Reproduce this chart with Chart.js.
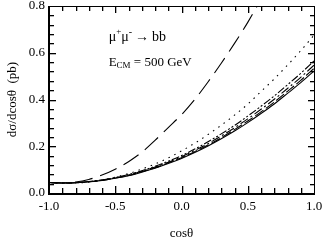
<!DOCTYPE html>
<html>
<head>
<meta charset="utf-8">
<script src="https://cdn.jsdelivr.net/npm/chart.js@4.4.1/dist/chart.umd.min.js"></script>
<style>
  html, body { margin: 0; padding: 0; background: #fff; }
  #wrap { width: 327px; height: 243px; }
</style>
</head>
<body>
<div id="wrap"><canvas id="myChart" width="327" height="243"></canvas></div>
<script>
  // cos(theta) sample points
  const cosTheta = [-1.0, -0.9, -0.8, -0.7, -0.6, -0.5, -0.4, -0.3, -0.2, -0.1, 0.0,
                    0.1, 0.2, 0.3, 0.4, 0.5, 0.6, 0.7, 0.8, 0.9, 1.0];

  // d(sigma)/dcos(theta) in pb
  const solidCurve   = [0.045, 0.043, 0.044, 0.048, 0.054, 0.063, 0.074, 0.089, 0.106, 0.126, 0.148,
                        0.173, 0.201, 0.232, 0.265, 0.301, 0.340, 0.381, 0.426, 0.472, 0.522];
  const dashCurve    = [0.045, 0.043, 0.044, 0.048, 0.054, 0.064, 0.075, 0.091, 0.108, 0.129, 0.151,
                        0.177, 0.205, 0.237, 0.271, 0.308, 0.347, 0.389, 0.435, 0.482, 0.533];
  const dashDotCurve = [0.045, 0.043, 0.044, 0.048, 0.055, 0.065, 0.077, 0.093, 0.111, 0.132, 0.155,
                        0.182, 0.211, 0.244, 0.279, 0.317, 0.358, 0.401, 0.447, 0.495, 0.547];
  const dashDotDotCurve = [0.045, 0.043, 0.044, 0.049, 0.056, 0.066, 0.079, 0.095, 0.114, 0.136, 0.160,
                        0.188, 0.219, 0.253, 0.289, 0.329, 0.371, 0.415, 0.463, 0.512, 0.565];
  const dottedCurve  = [0.045, 0.043, 0.043, 0.047, 0.055, 0.068, 0.083, 0.102, 0.124, 0.150, 0.180,
                        0.213, 0.250, 0.290, 0.333, 0.380, 0.434, 0.488, 0.547, 0.609, 0.675];
  const longDashCurve = [0.045, 0.043, 0.047, 0.058, 0.077, 0.102, 0.134, 0.174, 0.225, 0.280, 0.335,
                        0.400, 0.475, 0.555, 0.640, 0.730, 0.830, 0.940];

  // axis ticks
  const xMajorStep = 0.5, xMinorStep = 0.1;
  const yMajorStep = 0.2, yMinorStep = 0.04;
  const xRange = [-1.0, 1.0];
  const yRange = [0.0, 0.8];

  const serif = '"Liberation Serif", "Times New Roman", serif';

  function toPoints(ys) {
    return ys.map((y, i) => ({ x: cosTheta[i], y: y }));
  }

  function lineSet(ys, dash) {
    return {
      data: toPoints(ys),
      borderColor: '#000',
      borderWidth: 1.1,
      borderDash: dash,
      pointRadius: 0,
      fill: false,
      cubicInterpolationMode: 'monotone'
    };
  }

  // inward ticks on all four sides, frame and text labels
  const framePlugin = {
    id: 'frame',
    afterDraw(chart) {
      const { ctx, chartArea: a, scales: { x, y } } = chart;
      const L = Math.round(a.left), R = Math.round(a.right);
      const T = Math.round(a.top), B = Math.round(a.bottom);
      ctx.save();
      ctx.setLineDash([]);
      ctx.fillStyle = '#000';
      // frame
      ctx.fillRect(L - 1, T, R - L + 2, 1);
      ctx.fillRect(L - 1, B, R - L + 2, 2);
      ctx.fillRect(L - 1, T, 2, B - T + 1);
      ctx.fillRect(R, T, 1, B - T + 1);

      const nx = Math.round((xRange[1] - xRange[0]) / xMinorStep);
      for (let i = 1; i < nx; i++) {
        const v = xRange[0] + i * xMinorStep;
        const major = Math.abs(v / xMajorStep - Math.round(v / xMajorStep)) < 1e-6;
        const len = major ? 7 : 5;
        const px = Math.round(x.getPixelForValue(v));
        ctx.fillRect(px, B - len, 1.3, len);
        ctx.fillRect(px, T, 1.3, len);
      }
      const ny = Math.round((yRange[1] - yRange[0]) / yMinorStep);
      for (let i = 1; i < ny; i++) {
        const v = yRange[0] + i * yMinorStep;
        const major = Math.abs(v / yMajorStep - Math.round(v / yMajorStep)) < 1e-6;
        const len = major ? 7 : 5;
        const py = Math.round(y.getPixelForValue(v));
        ctx.fillRect(L, py, len, 1.3);
        ctx.fillRect(R - len + 1, py, len, 1.3);
      }

      // process and energy labels
      ctx.textBaseline = 'middle';
      ctx.textAlign = 'left';
      const tx = x.getPixelForValue(-0.55);
      const py1 = y.getPixelForValue(0.667);
      let cx = tx;
      const piece = (txt, size, dy) => {
        ctx.font = size + 'px ' + serif;
        ctx.fillText(txt, cx, py1 + dy);
        cx += ctx.measureText(txt).width;
      };
      piece('\u03BC', 14, 0);
      piece('+', 9, -5);
      piece('\u03BC', 14, 0);
      piece('-', 10, -5);
      cx += 3;
      piece('\u2192', 14, 0);
      cx += 3;
      piece('bb', 14, 0);

      const ey = y.getPixelForValue(0.556);
      ctx.font = '13px ' + serif;
      ctx.fillText('E', tx, ey);
      let w = ctx.measureText('E').width;
      ctx.font = '9px ' + serif;
      ctx.fillText('CM', tx + w, ey + 3);
      w += ctx.measureText('CM').width;
      ctx.font = '13px ' + serif;
      ctx.fillText(' = 500 GeV', tx + w, ey);
      ctx.restore();
    }
  };

  const ctx = document.getElementById('myChart').getContext('2d');
  new Chart(ctx, {
    type: 'line',
    data: {
      datasets: [
        lineSet(solidCurve, []),
        lineSet(dashCurve, [10, 3]),
        lineSet(dashDotCurve, [9, 3, 2, 3]),
        lineSet(dashDotDotCurve, [8, 2, 2, 2, 2, 2]),
        lineSet(dottedCurve, [1.5, 5]),
        lineSet(longDashCurve, [18, 8])
      ]
    },
    options: {
      responsive: false,
      animation: false,
      layout: { padding: { top: 6, right: 13, left: 0, bottom: 0 } },
      plugins: {
        legend: { display: false },
        tooltip: { enabled: false }
      },
      scales: {
        x: {
          type: 'linear',
          min: xRange[0],
          max: xRange[1],
          grid: { display: false, drawTicks: false },
          border: { display: false },
          ticks: {
            stepSize: xMajorStep,
            padding: 6,
            color: '#000',
            font: { family: serif, size: 13 },
            maxRotation: 0,
            callback: v => v.toFixed(1)
          },
          title: {
            display: true,
            text: 'cos\u03B8',
            color: '#000',
            font: { family: serif, size: 13 },
            padding: { top: 0, bottom: 2 }
          },
          afterFit: s => { s.height = 50; s.paddingLeft = 0; s.paddingRight = 0; }
        },
        y: {
          type: 'linear',
          min: yRange[0],
          max: yRange[1],
          grid: { display: false, drawTicks: false },
          border: { display: false },
          ticks: {
            stepSize: yMajorStep,
            padding: 4,
            color: '#000',
            font: { family: serif, size: 13 },
            callback: v => v.toFixed(1)
          },
          title: {
            display: true,
            text: 'd\u03C3/dcos\u03B8  (pb)',
            color: '#000',
            font: { family: serif, size: 13 },
            padding: { top: 5, bottom: 0 }
          },
          afterFit: s => { s.width = 49; s.paddingTop = 0; s.paddingBottom = 0; }
        }
      }
    },
    plugins: [framePlugin]
  });
</script>
</body>
</html>
